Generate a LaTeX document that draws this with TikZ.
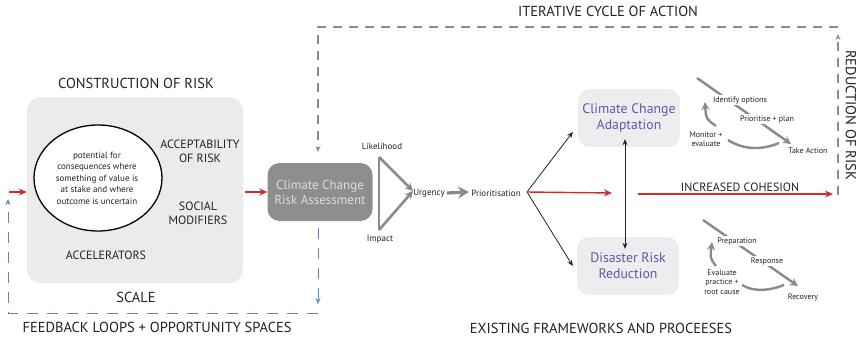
\documentclass[tikz,border=0pt]{standalone}
\usepackage{fontspec}
\setmainfont{PT Sans}
\usetikzlibrary{arrows.meta,shapes.geometric}
\definecolor{boxgrey}{HTML}{EBEBEB}
\definecolor{ccragrey}{HTML}{8E8E8E}
\definecolor{ccratext}{HTML}{DDDDDD}
\definecolor{palebox}{HTML}{EDEDF0}
\definecolor{bluetext}{HTML}{5B5BA6}
\definecolor{myred}{HTML}{D42A2A}
\definecolor{myblue}{HTML}{5B86C5}
\definecolor{dashgrey}{HTML}{8C8C8C}
\definecolor{cyclegrey}{HTML}{8A8A8A}
\definecolor{txt}{HTML}{222222}
\tikzset{
  caps/.style={font=\fontsize{14.5}{16}\selectfont, text=txt, align=center, inner sep=1pt},
  capsb/.style={font=\fontsize{12}{14}\selectfont, text=txt, align=center, inner sep=1pt},
  small/.style={font=\fontsize{9}{11.5}\selectfont, text=txt, align=center, inner sep=1pt},
  tiny/.style={font=\fontsize{8}{9.5}\selectfont, text=txt, align=center, inner sep=1pt, fill=white},
  bigbox/.style={fill=boxgrey, rounded corners=14pt, minimum width=216pt, minimum height=186pt, inner sep=0pt},
  circ/.style={ellipse, draw=black, line width=1.3pt, fill=white, minimum width=128pt, minimum height=106pt, inner sep=0pt},
  ccrabox/.style={fill=ccragrey, rounded corners=12pt, minimum width=105pt, minimum height=58pt, text=ccratext, font=\fontsize{13}{15}\selectfont, align=center, inner sep=0pt},
  frbox/.style={fill=palebox, rounded corners=12pt, minimum width=102pt, minimum height=58pt, text=bluetext, font=\fontsize{13.8}{16}\selectfont, align=center, inner sep=0pt},
  redarr/.style={draw=myred, line width=1.4pt, -{Stealth[length=8pt,width=7pt]}},
  bluedash/.style={draw=myblue, line width=1pt, dash pattern=on 11pt off 9pt},
  greydash/.style={draw=dashgrey, line width=1.2pt, dash pattern=on 9pt off 7pt},
  dtip/.style={-{Stealth[length=6pt,width=5pt]}},
  thinarr/.style={draw=txt, line width=0.8pt, -{Stealth[length=6pt,width=5pt]}},
  trib/.style={draw=cyclegrey, line width=2.6pt},
  cyc/.style={draw=cyclegrey, line width=2.4pt},
  cyctip/.style={-{Stealth[length=8pt,width=8pt]}},
}
\begin{document}
\begin{tikzpicture}[x=1pt,y=-1pt]
\path[use as bounding box] (0,0) rectangle (862,340);

% construction of risk
\node[caps] (tcr) at (136,83) {CONSTRUCTION OF RISK};
\node[bigbox] (cr) at (135,190) {};
\node[circ] (circ) at (98,178) {};
\node[small] (ctext) at (97,178) {potential for\\consequences where\\something of value is\\at stake and where\\outcome is uncertain};
\node[capsb] (acc) at (200,151) {ACCEPTABILITY\\OF RISK};
\node[capsb] (soc) at (198,213) {SOCIAL\\MODIFIERS};
\node[capsb] (accel) at (106,255) {ACCELERATORS};
\node[caps] (scale) at (136,297) {SCALE};
\node[caps] (fb) at (157,327) {FEEDBACK LOOPS + OPPORTUNITY SPACES};

% red inputs
\coordinate (rin) at (9,192);
\draw[redarr] (rin) -- (cr.west |- rin);

% CCRA
\node[ccrabox] (ccra) at (320,192) {Climate Change\\Risk Assessment};
\draw[redarr] ([xshift=2pt]cr.east |- ccra.west) -- (ccra.west);

% blue dashed feedback loop
\coordinate (b1) at (318,313);
\coordinate (b2) at (8,313);
\coordinate (b3) at (8,199);
\coordinate (bd) at (318,304);
\draw[bluedash,dtip] ([yshift=-7pt]ccra.south -| bd) -- (bd);
\draw[bluedash,dtip] (b1) -- (b2) -- (b3);

% grey dashed iterative cycle
\coordinate (g1) at (318,27);
\coordinate (g2) at (838,27);
\coordinate (g3) at (838,195);
\coordinate (g4) at (838,34);
\coordinate (gd) at (318,152);
\draw[greydash,dtip] (g2) -- (g1) -- (gd);
\draw[greydash,dtip] (g3) -- (g4);
\node[caps] (ica) at (608,11) {ITERATIVE CYCLE OF ACTION};
\node[caps, rotate=-90] (ror) at (851,115) {REDUCTION OF RISK};

% likelihood / impact triangle
\coordinate (tl) at (379,157);
\coordinate (bl) at (379,230);
\coordinate (apex) at (413,191);
\node[small] (lik) at (382,146) {Likelihood};
\node[small] (imp) at (380,239) {Impact};
\draw[trib] (tl) -- (bl);
\draw[trib,cyctip] (tl) -- (apex);
\draw[trib,cyctip] (bl) -- (apex);
\node[small] (urg) at (429,193) {Urgency};
\coordinate (ua) at (469,192);
\draw[draw=cyclegrey, line width=3.2pt, -{Stealth[length=11pt,width=12pt]}] (urg.east) ++(1,0) -- (ua);
\node[small] (pri) at (496,193) {Prioritisation};

% frameworks
\node[frbox] (cca) at (629,118) {Climate Change\\Adaptation};
\node[frbox] (drr) at (628,266) {Disaster Risk\\Reduction};
\coordinate (sp) at (527,192);
\draw[thinarr] (sp) -- ([xshift=-5pt,yshift=-14pt]cca.west);
\draw[thinarr] (sp) -- ([xshift=-4pt]drr.west);
\coordinate (r1) at (612,193);
\draw[redarr] (sp) -- (r1);
\coordinate (r2) at (638,194);
\coordinate (r3) at (833,194);
\draw[redarr] (r2) -- (r3);
\node[capsb] (coh) at (740,187) {INCREASED COHESION};
\draw[draw=txt, line width=0.8pt, {Stealth[length=6pt,width=5pt]}-{Stealth[length=6pt,width=5pt]}] ([xshift=-4pt,yshift=8pt]cca.south) -- ([xshift=-3pt,yshift=-12pt]drr.north);
\node[caps] (efp) at (601,328) {EXISTING FRAMEWORKS AND PROCEESES};

% adaptation cycle
\coordinate (a1) at (697,78);
\coordinate (a2) at (791,144);
\coordinate (a3) at (779,143);
\coordinate (a4) at (728,140);
\coordinate (a5) at (716,126);
\coordinate (a6) at (705,102);
\draw[cyc,cyctip] (a1) -- (a2);
\draw[cyc] (a3) .. controls (760,151) and (742,149) .. (a4);
\draw[cyc,cyctip] (a5) .. controls (706,119) .. (a6);
\node[tiny] (io) at (740,100) {Identify options};
\node[tiny] (pp) at (767,119) {Prioritise + plan};
\node[small, font=\fontsize{8}{9.5}\selectfont] (ta) at (808,151) {Take Action};
\node[small, font=\fontsize{8}{9.5}\selectfont] (me) at (706,139) {Monitor +\\evaluate};

% DRR cycle
\coordinate (d1) at (703,220);
\coordinate (d2) at (798,286);
\coordinate (d3) at (784,285);
\coordinate (d4) at (742,285);
\coordinate (d5) at (716,266);
\coordinate (d6) at (712,242);
\draw[cyc,cyctip] (d1) -- (d2);
\draw[cyc] (d3) .. controls (766,292) and (752,291) .. (d4);
\draw[cyc,cyctip] (d5) .. controls (710,258) .. (d6);
\node[tiny] (prep) at (737,241) {Preparation};
\node[tiny] (resp) at (767,261) {Response};
\node[small, font=\fontsize{8}{9.5}\selectfont] (rec) at (803,297) {Recovery};
\node[small, font=\fontsize{8}{9.5}\selectfont] (evp) at (722,282) {Evaluate\\practice +\\root cause};
\end{tikzpicture}
\end{document}
